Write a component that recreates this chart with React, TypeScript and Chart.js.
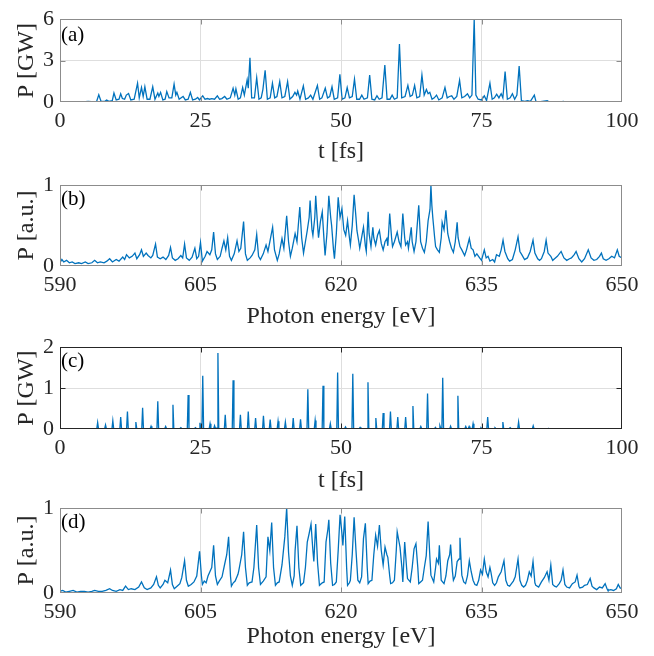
import { useEffect, useRef } from "react";
import { Chart, registerables } from "chart.js";

Chart.register(...registerables);

// ---------- tick labels ----------
const timeTicks = [0, 25, 50, 75, 100];
const energyTicks = [590, 605, 620, 635, 650];
const powerTicksA = [0, 3, 6];
const powerTicksC = [0, 1, 2];
const unitTicks = [0, 1];

// ---------- (a) SASE pulse power, t [fs] vs P [GW] ----------
const pulseA: [number, number][] = [
  [0,0],[4,0],[5,0.04],[5.6,0.02],[6.5,0.02],[6.9,0.52],[7.3,0.05],[8.0,0.05],[8.3,0.15],[8.7,0.05],[9.3,0.1],[9.6,0.65],[10.0,0.15],[10.5,0.2],[10.8,0.6],[11.1,0.25],[11.5,0.2],[11.8,0.5],[12.2,0.62],[12.6,0.15],[13.2,0.2],[13.8,1.36],[14.1,0.3],[14.5,1.05],[14.8,0.4],[15.1,1.1],[15.5,0.2],[16.0,0.2],[16.5,1.1],[16.9,0.2],[17.4,0.65],[17.6,0.4],[17.9,0.7],[18.3,0.15],[18.7,0.2],[19.0,0.75],[19.4,0.3],[19.9,0.3],[20.3,1.3],[20.6,0.5],[20.8,0.7],[21.2,0.2],[21.9,0.4],[22.3,0.15],[22.8,0.2],[23.2,0.7],[23.6,0.15],[24.1,0.2],[24.5,0.33],[24.8,0.15],[25.4,0.45],[25.8,0.2],[26.3,0.25],[26.6,0.2],[27.0,0.25],[27.5,0.2],[28.0,0.45],[28.4,0.2],[28.8,0.25],[29.3,0.4],[29.7,0.2],[30.3,0.3],[30.8,1.0],[31.1,0.5],[31.3,0.95],[31.7,0.2],[32.1,0.3],[32.5,1.05],[32.8,0.5],[33.3,1.6],[33.5,1.0],[33.8,3.2],[34.1,0.3],[34.6,0.3],[35.0,1.76],[35.4,0.2],[35.8,0.3],[36.1,0.9],[36.5,2.3],[36.9,0.2],[37.4,0.3],[37.8,1.36],[38.2,0.3],[38.6,0.4],[39.1,1.48],[39.5,0.3],[40.0,0.4],[40.5,1.48],[40.9,0.2],[41.4,0.4],[41.8,0.7],[42.1,0.5],[42.3,0.8],[42.7,0.2],[43.3,1.17],[43.7,0.2],[44.2,0.3],[44.6,0.5],[45.0,0.2],[45.8,1.2],[46.2,0.2],[46.6,0.3],[47.2,1.0],[47.6,0.3],[48.0,0.4],[48.4,1.1],[48.8,0.2],[49.4,0.3],[49.8,2.0],[50.2,0.2],[50.7,0.3],[51.1,1.05],[51.5,0.3],[52.0,0.4],[52.4,1.65],[52.8,0.2],[53.3,0.2],[53.7,0.5],[54.1,0.2],[54.7,0.3],[55.1,1.95],[55.5,0.2],[56.0,0.15],[56.4,0.45],[56.8,0.2],[57.3,0.3],[57.8,2.67],[58.2,0.2],[58.7,0.2],[59.1,0.5],[59.5,0.2],[60.0,0.3],[60.4,4.2],[60.8,0.3],[61.4,0.4],[61.9,1.2],[62.3,0.4],[62.7,0.5],[63.1,1.2],[63.5,0.3],[64.0,0.4],[64.4,1.95],[64.8,0.5],[65.2,0.9],[65.5,0.6],[65.8,0.7],[66.2,0.2],[66.6,0.3],[67.0,0.5],[67.4,0.15],[68.0,0.3],[68.5,1.05],[68.9,0.3],[69.3,0.4],[69.7,0.45],[70.1,0.2],[70.6,0.4],[71.1,1.57],[71.5,0.3],[72.0,0.4],[72.5,0.6],[72.9,0.3],[73.3,0.5],[73.7,6.0],[74.0,0.5],[74.4,0.2],[75.0,0.15],[75.5,0.45],[75.9,0.1],[76.5,1.36],[76.9,0.2],[77.3,0.3],[77.7,0.57],[78.1,0.3],[78.5,0.6],[78.8,0.3],[79.2,2.2],[79.6,0.2],[80.1,0.3],[80.5,0.6],[80.9,0.2],[81.3,0.5],[81.7,2.6],[82.1,0.1],[82.7,0.05],[83.2,0.1],[83.7,0.05],[84.4,0.5],[84.7,0.03],[85.5,0.02],[86.7,0.1],[87.0,0.01],[89.0,0],[89.6,0.05],[90,0],[100,0],
];

// ---------- (b) spectrum, photon energy [eV] vs P [a.u.] ----------
const spectrumB: [number, number][] = [
  [590,0.04],[590.2,0.08],[590.4,0.05],[590.7,0.07],[591.0,0.04],[591.3,0.05],[591.6,0.03],[592.0,0.04],[592.3,0.03],[592.7,0.05],[593.0,0.03],[593.4,0.04],[593.7,0.07],[594.0,0.04],[594.3,0.05],[594.7,0.04],[595.0,0.06],[595.3,0.09],[595.6,0.05],[596.0,0.08],[596.3,0.06],
  [596.7,0.11],[596.9,0.08],[597.1,0.14],[597.4,0.1],[597.7,0.12],[598.0,0.16],[598.2,0.09],[598.5,0.14],[598.7,0.2],[598.9,0.12],[599.2,0.16],[599.4,0.13],[599.7,0.1],[599.9,0.13],[600.2,0.27],[600.4,0.11],[600.7,0.09],[601.0,0.11],[601.3,0.08],[601.6,0.13],[601.8,0.23],[602.0,0.1],[602.3,0.07],[602.6,0.09],[602.9,0.13],[603.1,0.1],[603.3,0.27],[603.5,0.1],[603.8,0.07],[604.1,0.11],[604.4,0.22],[604.6,0.09],[604.8,0.12],[605.0,0.29],[605.2,0.06],
  [605.5,0.12],[605.7,0.18],[606.0,0.14],[606.2,0.2],[606.4,0.42],[606.6,0.15],[606.8,0.08],[607.1,0.12],[607.3,0.22],[607.5,0.31],[607.7,0.2],[607.9,0.35],[608.1,0.12],[608.3,0.07],[608.6,0.15],[608.9,0.31],[609.1,0.18],[609.3,0.22],[609.6,0.55],[609.8,0.15],[610.0,0.07],[610.3,0.1],[610.5,0.13],[610.8,0.2],[611.0,0.39],[611.2,0.12],[611.4,0.08],[611.7,0.15],[612.0,0.26],[612.2,0.18],[612.4,0.3],[612.7,0.48],[612.9,0.2],
  [613.2,0.07],[613.4,0.15],[613.7,0.34],[613.9,0.22],[614.2,0.62],[614.4,0.3],[614.6,0.12],[614.8,0.22],[615.1,0.4],[615.3,0.3],[615.6,0.73],[615.8,0.35],[616.0,0.16],[616.2,0.3],[616.4,0.44],[616.6,0.6],[616.7,0.81],[616.9,0.45],[617.0,0.38],[617.2,0.6],[617.3,0.87],[617.5,0.5],[617.6,0.35],[617.8,0.55],[618.0,0.67],[618.2,0.3],[618.3,0.13],[618.5,0.4],[618.7,0.87],[618.9,0.6],[619.0,0.5],[619.2,0.2],[619.3,0.09],[619.5,0.4],[619.7,0.85],[619.9,0.6],[620.1,0.71],[620.3,0.45],
  [620.5,0.38],[620.7,0.56],[620.9,0.35],[621.0,0.26],[621.2,0.5],[621.4,0.88],[621.6,0.6],[621.7,0.44],[621.9,0.3],[622.0,0.22],[622.2,0.35],[622.4,0.48],[622.6,0.25],[622.7,0.18],[622.9,0.67],[623.0,0.4],[623.2,0.24],[623.4,0.48],[623.5,0.35],[623.7,0.26],[623.9,0.38],[624.1,0.44],[624.3,0.28],[624.5,0.2],[624.7,0.3],[624.9,0.34],[625.0,0.25],[625.2,0.65],[625.4,0.35],[625.5,0.24],[625.7,0.3],[626.0,0.42],[626.2,0.3],[626.4,0.24],[626.6,0.65],[626.8,0.35],[626.9,0.26],[627.1,0.3],[627.2,0.22],[627.5,0.48],[627.6,0.3],[627.8,0.18],
  [628.0,0.3],[628.3,0.75],[628.5,0.3],[628.7,0.22],[628.9,0.17],[629.1,0.3],[629.3,0.56],[629.5,0.7],[629.6,1.0],[629.7,0.75],[629.8,0.6],[630.0,0.35],[630.1,0.24],[630.3,0.2],[630.5,0.17],[630.7,0.35],[630.8,0.54],[631.0,0.45],[631.2,0.69],[631.4,0.4],[631.6,0.3],[631.8,0.22],[632.0,0.17],[632.2,0.3],[632.4,0.54],[632.5,0.35],[632.7,0.24],[632.9,0.2],[633.2,0.13],[633.4,0.2],[633.7,0.34],[633.9,0.22],[634.1,0.2],[634.3,0.12],[634.5,0.15],[634.8,0.1],
  [635.0,0.07],[635.3,0.2],[635.5,0.1],[635.7,0.12],[635.9,0.06],[636.2,0.08],[636.4,0.05],[636.6,0.14],[636.9,0.12],[637.1,0.2],[637.3,0.32],[637.5,0.18],[637.8,0.09],[638.0,0.06],[638.3,0.08],[638.6,0.2],[638.9,0.36],[639.1,0.18],[639.3,0.14],[639.6,0.08],[639.9,0.1],[640.2,0.18],[640.5,0.32],[640.7,0.16],[641.0,0.09],[641.2,0.07],[641.4,0.09],[641.7,0.18],[641.9,0.32],[642.1,0.16],[642.4,0.12],[642.6,0.07],[642.8,0.09],[643.1,0.12],[643.5,0.18],[643.8,0.1],[644.1,0.07],[644.4,0.09],[644.6,0.1],[644.9,0.14],[645.1,0.18],[645.4,0.09],[645.7,0.05],[646.0,0.09],[646.4,0.2],[646.7,0.1],[647.0,0.07],[647.3,0.08],[647.6,0.12],[647.8,0.16],[648.0,0.09],[648.3,0.07],[648.6,0.09],[648.9,0.12],[649.2,0.1],[649.5,0.2],[649.7,0.12],[650,0.1],
];

// ---------- (c) pulse power, t [fs] vs P [GW] ----------
const pulseC: [number, number][] = [
  [0,0],[6.0,0],[6.55,0.01],[6.7,0.16],[6.85,0.01],[7.95,0.01],[8.1,0.10],[8.25,0.01],[9.25,0.01],[9.4,0.20],[9.55,0.01],[10.65,0.01],[10.8,0.29],[10.95,0.01],[11.85,0.01],[12.0,0.43],[12.15,0.01],[13.35,0.01],[13.5,0.17],[13.65,0.01],[14.55,0.01],[14.7,0.52],[14.85,0.01],[16.05,0.01],[16.2,0.07],[16.35,0.01],[17.25,0.01],[17.4,0.68],[17.55,0.01],[18.65,0.01],[18.8,0.06],[18.95,0.01],[19.95,0.01],[20.1,0.59],[20.25,0.01],[21.35,0.01],[21.5,0.03],[21.65,0.01],[22.65,0.01],[22.8,0.83],[22.95,0.01],[23.95,0.01],[24.1,0.03],[24.25,0.01],[24.75,0.01],[24.9,0.15],[25.05,0.02],[25.25,0.02],[25.4,1.30],[25.55,0.01],[26.55,0.01],[26.7,0.13],[26.85,0.01],[27.35,0.01],[27.5,0.08],[27.65,0.02],[27.95,0.02],[28.1,1.86],[28.25,0.01],[29.25,0.01],[29.4,0.35],[29.55,0.01],[30.65,0.01],[30.8,1.19],[30.95,0.01],[31.95,0.01],[32.1,0.35],[32.25,0.01],[33.35,0.01],[33.5,0.43],[33.65,0.01],[34.65,0.01],[34.8,0.27],[34.95,0.01],[36.05,0.01],[36.2,0.32],[36.35,0.01],[37.25,0.01],[37.4,0.23],[37.55,0.01],[38.65,0.01],[38.8,0.19],[38.95,0.01],[39.95,0.01],[40.1,0.17],[40.25,0.01],[41.35,0.01],[41.5,0.27],[41.65,0.01],[42.65,0.01],[42.8,0.24],[42.95,0.01],[43.95,0.01],[44.1,0.97],[44.25,0.01],[45.25,0.01],[45.4,0.21],[45.55,0.01],[46.65,0.01],[46.8,1.06],[46.95,0.01],[47.95,0.01],[48.1,0.13],[48.25,0.01],[49.25,0.01],[49.4,1.38],[49.55,0.01],[50.65,0.01],[50.8,0.05],[50.95,0.01],[51.95,0.01],[52.1,1.35],[52.25,0.01],[53.25,0.01],[53.4,0.04],[53.55,0.01],[54.65,0.01],[54.8,1.14],[54.95,0.01],[56.05,0.01],[56.2,0.27],[56.35,0.01],[57.35,0.01],[57.5,0.39],[57.65,0.01],[58.65,0.01],[58.8,0.43],[58.95,0.01],[59.95,0.01],[60.1,0.29],[60.25,0.01],[61.35,0.01],[61.5,0.29],[61.65,0.01],[62.65,0.01],[62.8,0.56],[62.95,0.01],[64.05,0.01],[64.2,0.06],[64.35,0.01],[65.25,0.01],[65.4,0.87],[65.55,0.01],[66.65,0.01],[66.8,0.04],[66.95,0.01],[67.45,0.01],[67.6,0.08],[67.75,0.02],[67.95,0.02],[68.1,1.25],[68.25,0.01],[69.35,0.01],[69.5,0.07],[69.65,0.01],[70.65,0.01],[70.8,0.81],[70.95,0.01],[72.05,0.01],[72.2,0.06],[72.35,0.01],[72.65,0.01],[72.8,0.06],[72.95,0.01],[73.35,0.01],[73.5,0.13],[73.65,0.01],[74.75,0.01],[74.9,0.03],[75.05,0.01],[75.95,0.01],[76.1,0.29],[76.25,0.01],[77.25,0.01],[77.4,0.03],[77.55,0.01],[78.65,0.01],[78.8,0.17],[78.95,0.01],[79.95,0.01],[80.1,0.03],[80.25,0.01],[81.45,0.01],[81.6,0.17],[81.75,0.01],[84.05,0.01],[84.2,0.08],[84.35,0.01],[86.85,0],[87.0,0.01],[87.15,0],[100,0],
];

// ---------- (d) spectrum, photon energy [eV] vs P [a.u.] ----------
const spectrumD: [number, number][] = [
  [590,0.02],[590.3,0.03],[590.6,0.01],[591.0,0.02],[591.4,0.03],[591.8,0.01],[592.2,0.02],[592.6,0.02],[593.0,0.01],[593.4,0.02],[593.7,0.03],[594.1,0.02],[594.5,0.02],[594.9,0.03],[595.3,0.05],[595.6,0.03],[596.0,0.02],[596.4,0.04],[596.7,0.03],[597.0,0.08],[597.3,0.04],[597.6,0.05],[598.0,0.04],[598.4,0.07],[598.7,0.13],[599.0,0.06],[599.3,0.04],[599.7,0.06],[600.0,0.1],[600.3,0.19],[600.5,0.09],[600.7,0.06],
  [601.0,0.1],[601.2,0.15],[601.5,0.12],[601.8,0.27],[602.0,0.1],[602.2,0.05],[602.5,0.08],[602.8,0.11],[603.0,0.18],[603.3,0.38],[603.5,0.15],[603.7,0.08],[604.0,0.1],[604.3,0.13],[604.6,0.2],[604.9,0.49],[605.1,0.2],[605.2,0.1],[605.4,0.14],[605.6,0.12],[605.8,0.2],[606.0,0.25],[606.2,0.3],[606.4,0.56],[606.6,0.2],[606.8,0.1],
  [607.0,0.14],[607.3,0.19],[607.6,0.35],[607.8,0.45],[608.0,0.66],[608.2,0.2],[608.3,0.08],[608.5,0.12],[608.7,0.14],[609.0,0.22],[609.1,0.27],[609.4,0.45],[609.6,0.72],[609.8,0.3],[610.0,0.09],[610.2,0.12],[610.5,0.13],[610.7,0.3],[611.0,0.8],[611.2,0.3],[611.4,0.1],[611.7,0.14],[612.0,0.19],[612.2,0.66],[612.4,0.5],[612.6,0.83],[612.8,0.3],[613.0,0.09],[613.2,0.12],[613.4,0.13],[613.7,0.33],[614.0,0.66],[614.2,1.0],[614.4,0.48],[614.6,0.2],[614.8,0.09],
  [615.0,0.2],[615.1,0.5],[615.3,0.79],[615.5,0.3],[615.7,0.09],[616.0,0.12],[616.2,0.3],[616.4,0.6],[616.6,0.7],[616.8,0.81],[617.0,0.5],[617.1,0.37],[617.3,0.81],[617.5,0.35],[617.7,0.09],[618.0,0.12],[618.2,0.13],[618.4,0.6],[618.6,0.75],[618.7,0.86],[618.9,0.35],[619.1,0.09],[619.3,0.1],[619.5,0.13],[619.7,0.5],[619.9,0.92],[620.1,0.7],[620.2,0.56],[620.4,0.9],[620.6,0.3],[620.7,0.09],[620.9,0.12],[621.0,0.15],[621.2,0.45],[621.4,0.89],[621.6,0.5],[621.8,0.15],
  [622.0,0.12],[622.2,0.19],[622.4,0.64],[622.6,0.82],[622.8,0.3],[622.9,0.11],[623.1,0.14],[623.3,0.15],[623.5,0.45],[623.7,0.68],[623.9,0.55],[624.1,0.8],[624.3,0.5],[624.5,0.33],[624.7,0.54],[624.9,0.45],[625.0,0.42],[625.2,0.2],[625.3,0.11],[625.5,0.12],[625.7,0.15],[625.9,0.5],[626.0,0.72],[626.2,0.6],[626.3,0.54],[626.5,0.3],[626.6,0.13],[626.8,0.6],[627.0,0.3],[627.1,0.17],[627.4,0.13],[627.6,0.3],[627.8,0.52],[628.0,0.58],[628.2,0.3],[628.3,0.11],[628.5,0.13],[628.7,0.15],[628.9,0.3],[629.1,0.44],[629.3,0.84],[629.5,0.4],[629.6,0.21],[629.9,0.13],
  [630.1,0.3],[630.2,0.4],[630.4,0.35],[630.5,0.56],[630.7,0.15],[631.0,0.11],[631.2,0.2],[631.4,0.38],[631.6,0.45],[631.7,0.57],[631.9,0.25],[632.0,0.15],[632.2,0.2],[632.4,0.37],[632.6,0.4],[632.7,0.65],[632.9,0.21],[633.1,0.13],[633.3,0.11],[633.5,0.2],[633.7,0.38],[633.9,0.25],[634.1,0.15],[634.3,0.1],[634.5,0.09],[634.7,0.15],[634.9,0.27],[635.1,0.22],[635.3,0.4],[635.5,0.25],[635.7,0.19],[635.9,0.3],[636.0,0.25],[636.2,0.12],[636.4,0.09],
  [636.6,0.12],[636.8,0.19],[637.1,0.25],[637.4,0.38],[637.6,0.15],[637.8,0.09],[638.0,0.08],[638.2,0.11],[638.4,0.14],[638.6,0.19],[638.9,0.4],[639.1,0.15],[639.3,0.09],[639.5,0.07],[639.7,0.09],[639.9,0.15],[640.1,0.25],[640.3,0.2],[640.5,0.37],[640.7,0.12],[640.8,0.09],[641.1,0.07],[641.4,0.13],[641.7,0.18],[642.0,0.25],[642.2,0.15],[642.4,0.33],[642.6,0.1],[642.8,0.08],[643.0,0.07],[643.3,0.11],[643.5,0.15],[643.7,0.27],[643.9,0.1],[644.1,0.07],[644.4,0.06],[644.7,0.11],[645.0,0.13],[645.2,0.21],[645.4,0.08],[645.5,0.06],[645.8,0.07],[646.0,0.09],[646.3,0.1],[646.6,0.17],[646.8,0.08],[647.0,0.06],[647.3,0.04],[647.6,0.07],[647.9,0.06],[648.2,0.11],[648.4,0.05],[648.5,0.03],[648.8,0.04],[649.1,0.03],[649.4,0.05],[649.6,0.1],[649.8,0.06],[650,0.05],
];

// ---------- layout / style of the four panels ----------
type Panel = {
  label: string;
  data: [number, number][];
  xTicks: number[];
  yTicks: number[];
  xTitle: string;
  yTitle: string;
  top: number;
  height: number;
  plotTop: number;
  plotBottom: number;
  titlePad: number;
  frame: string;
  labelDy: number;
};

const panels: Panel[] = [
  { label: "(a)", data: pulseA, xTicks: timeTicks, yTicks: powerTicksA, xTitle: "t [fs]", yTitle: "P [GW]",
    top: 0, height: 170, plotTop: 17, plotBottom: 102, titlePad: 3.6, frame: "#8c8c8c", labelDy: 22 },
  { label: "(b)", data: spectrumB, xTicks: energyTicks, yTicks: unitTicks, xTitle: "Photon energy [eV]", yTitle: "P [a.u.]",
    top: 166, height: 170, plotTop: 15, plotBottom: 100, titlePad: 4.6, frame: "#8c8c8c", labelDy: 20 },
  { label: "(c)", data: pulseC, xTicks: timeTicks, yTicks: powerTicksC, xTitle: "t [fs]", yTitle: "P [GW]",
    top: 328, height: 170, plotTop: 17, plotBottom: 101, titlePad: 2.6, frame: "#262626", labelDy: 20 },
  { label: "(d)", data: spectrumD, xTicks: energyTicks, yTicks: unitTicks, xTitle: "Photon energy [eV]", yTitle: "P [a.u.]",
    top: 486, height: 170, plotTop: 22, plotBottom: 107, titlePad: 4.6, frame: "#8c8c8c", labelDy: 20 },
];

const FONT = "'Liberation Serif', 'Times New Roman', serif";
const TEXT = "#262626";
const LINE = "#0072BD";
const GRID = "#dedede";
const W = 654;
const PLOT_LEFT = 60;
const PLOT_RIGHT = 622;

const framePlugin = {
  id: "frameBox",
  afterDraw(chart: any, _args: any, opts: any) {
    const { ctx, chartArea, scales } = chart;
    const { left, right, top, bottom } = chartArea;
    ctx.save();
    ctx.strokeStyle = opts.color;
    ctx.lineWidth = 1;
    const L = Math.round(left) + 0.5;
    const R = Math.round(right) - 0.5;
    const T = Math.round(top) + 0.5;
    const B = Math.round(bottom) - 0.5;
    ctx.strokeRect(L, T, R - L, B - T);
    const tick = 5;
    ctx.beginPath();
    for (const v of opts.xTicks as number[]) {
      if (v <= scales.x.min || v >= scales.x.max) continue;
      const px = Math.round(scales.x.getPixelForValue(v)) + 0.5;
      ctx.moveTo(px, B); ctx.lineTo(px, B - tick);
      ctx.moveTo(px, T); ctx.lineTo(px, T + tick);
    }
    for (const v of opts.yTicks as number[]) {
      if (v <= scales.y.min || v >= scales.y.max) continue;
      const py = Math.round(scales.y.getPixelForValue(v)) + 0.5;
      ctx.moveTo(L, py); ctx.lineTo(L + tick, py);
      ctx.moveTo(R, py); ctx.lineTo(R - tick, py);
    }
    ctx.stroke();
    ctx.fillStyle = "#000";
    ctx.font = `21px ${FONT}`;
    ctx.textBaseline = "alphabetic";
    ctx.textAlign = "left";
    ctx.fillText(opts.label, left + 1, top + opts.labelDy);
    ctx.restore();
  },
};

function PanelChart({ p }: { p: Panel }) {
  const ref = useRef<HTMLCanvasElement | null>(null);
  useEffect(() => {
    if (!ref.current) return;
    const xMin = p.xTicks[0];
    const xMax = p.xTicks[p.xTicks.length - 1];
    const yMin = p.yTicks[0];
    const yMax = p.yTicks[p.yTicks.length - 1];
    const interior = (min: number, max: number) => (c: any) =>
      c.tick && c.tick.value > min && c.tick.value < max ? GRID : "rgba(0,0,0,0)";
    const chart = new Chart(ref.current, {
      type: "line",
      data: {
        datasets: [
          {
            data: p.data.map(([x, y]) => ({ x, y })),
            borderColor: LINE,
            borderWidth: 1.3,
            pointRadius: 0,
            tension: 0,
            fill: false,
          },
        ],
      },
      options: {
        animation: false,
        responsive: false,
        maintainAspectRatio: false,
        devicePixelRatio: 1,
        layout: { padding: { left: 0, right: W - PLOT_RIGHT, top: p.plotTop, bottom: 0 } },
        plugins: {
          legend: { display: false },
          tooltip: { enabled: false },
          frameBox: { color: p.frame, xTicks: p.xTicks, yTicks: p.yTicks, label: p.label, labelDy: p.labelDy },
        } as any,
        scales: {
          x: {
            type: "linear",
            min: xMin,
            max: xMax,
            afterBuildTicks: (s: any) => { s.ticks = p.xTicks.map((v) => ({ value: v })); },
            afterFit: (s: any) => { s.height = p.height - p.plotBottom; },
            grid: { color: interior(xMin, xMax), drawTicks: false, lineWidth: 1 },
            border: { display: false },
            ticks: { font: { family: FONT, size: 22 }, color: TEXT, padding: 6, maxRotation: 0, autoSkip: false },
            title: { display: true, text: p.xTitle, font: { family: FONT, size: 24 }, color: TEXT, padding: { top: 0, bottom: p.titlePad } },
          },
          y: {
            type: "linear",
            min: yMin,
            max: yMax,
            afterBuildTicks: (s: any) => { s.ticks = p.yTicks.map((v) => ({ value: v })); },
            afterFit: (s: any) => { s.width = PLOT_LEFT; },
            grid: { color: interior(yMin, yMax), drawTicks: false, lineWidth: 1 },
            border: { display: false },
            ticks: { font: { family: FONT, size: 22 }, color: TEXT, padding: 6 },
            title: { display: true, text: p.yTitle, font: { family: FONT, size: 24 }, color: TEXT, padding: { top: 12, bottom: 0 } },
          },
        },
      },
      plugins: [framePlugin],
    } as any);
    return () => chart.destroy();
  }, [p]);
  return (
    <canvas
      ref={ref}
      width={W}
      height={p.height}
      style={{ position: "absolute", left: 0, top: p.top, width: W, height: p.height }}
    />
  );
}

export default function App() {
  return (
    <div style={{ position: "absolute", left: 0, top: 0, width: W, height: 656, background: "#fff", overflow: "hidden" }}>
      {panels.map((p) => (
        <PanelChart key={p.label} p={p} />
      ))}
    </div>
  );
}
